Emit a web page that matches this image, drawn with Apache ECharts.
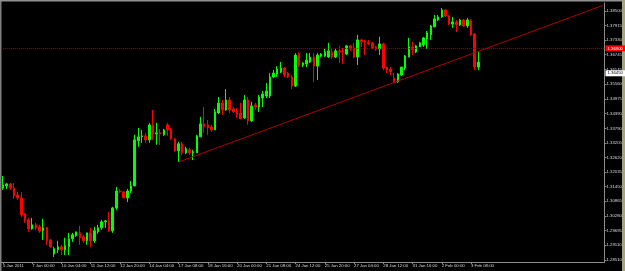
<!DOCTYPE html>
<html><head><meta charset="utf-8">
<script src="https://cdn.jsdelivr.net/npm/echarts@6/dist/echarts.min.js"></script>
<style>html,body{margin:0;padding:0;background:#000;}#c{width:625px;height:271px;}</style>
</head><body><div id="c"></div>
<script>
// EURUSD H4 candles
const openP = [
1.3140,1.3148,1.3156,1.3140,1.3112,1.3100,1.3036,1.3012,1.2976,1.2992,
1.2984,1.2968,1.2980,1.2932,1.2875,1.2892,1.2904,1.2892,1.2904,1.2936,
1.2948,1.2960,1.2944,1.2928,1.2960,1.2928,1.2964,1.2980,1.3004,1.3004,
1.2968,1.3060,1.3128,1.3124,1.3100,1.3128,1.3148,1.3329,1.3345,1.3349,
1.3333,1.3393,1.3357,1.3361,1.3353,1.3393,1.3377,1.3337,1.3289,1.3317,
1.3281,1.3293,1.3281,1.3281,1.3345,1.3397,1.3393,1.3385,1.3373,1.3441,
1.3481,1.3453,1.3493,1.3457,1.3449,1.3441,1.3421,1.3493,1.3409,1.3473,
1.3465,1.3501,1.3509,1.3509,1.3585,1.3597,1.3605,1.3621,1.3601,1.3585,
1.3549,1.3677,1.3633,1.3637,1.3645,1.3665,1.3629,1.3669,1.3669,1.3665,
1.3685,1.3665,1.3690,1.3690,1.3677,1.3710,1.3702,1.3665,1.3734,1.3730,
1.3726,1.3722,1.3706,1.3698,1.3718,1.3625,1.3617,1.3581,1.3565,1.3593,
1.3621,1.3665,1.3706,1.3685,1.3706,1.3714,1.3738,1.3754,1.3786,1.3814,
1.3826,1.3854,1.3830,1.3798,1.3806,1.3794,1.3814,1.3790,1.3810,1.3758,
1.3625];
const highP = [
1.3188,1.3160,1.3160,1.3160,1.3124,1.3124,1.3040,1.3020,1.3020,1.3000,
1.2992,1.3016,1.2984,1.2932,1.2904,1.2928,1.2912,1.2940,1.2960,1.2960,
1.2964,1.2988,1.2952,1.2960,1.2980,1.2984,1.2992,1.3012,1.3012,1.3044,
1.3064,1.3144,1.3136,1.3128,1.3136,1.3168,1.3353,1.3381,1.3373,1.3361,
1.3401,1.3453,1.3401,1.3377,1.3377,1.3401,1.3381,1.3341,1.3325,1.3325,
1.3305,1.3301,1.3293,1.3353,1.3425,1.3465,1.3413,1.3393,1.3457,1.3505,
1.3493,1.3537,1.3505,1.3465,1.3461,1.3481,1.3513,1.3505,1.3485,1.3481,
1.3513,1.3529,1.3561,1.3601,1.3613,1.3629,1.3645,1.3625,1.3605,1.3593,
1.3681,1.3685,1.3645,1.3681,1.3681,1.3681,1.3681,1.3681,1.3698,1.3722,
1.3698,1.3698,1.3710,1.3702,1.3714,1.3714,1.3722,1.3754,1.3738,1.3734,
1.3734,1.3726,1.3710,1.3746,1.3722,1.3625,1.3625,1.3601,1.3601,1.3625,
1.3673,1.3742,1.3726,1.3714,1.3726,1.3746,1.3770,1.3794,1.3834,1.3834,
1.3862,1.3858,1.3834,1.3826,1.3814,1.3818,1.3818,1.3822,1.3818,1.3762,
1.3685];
const lowP = [
1.3132,1.3136,1.3132,1.3096,1.3092,1.3024,1.3000,1.2964,1.2972,1.2972,
1.2960,1.2932,1.2912,1.2900,1.2863,1.2879,1.2871,1.2871,1.2871,1.2924,
1.2944,1.2912,1.2920,1.2912,1.2904,1.2920,1.2956,1.2972,1.2980,1.2964,
1.2960,1.3052,1.3120,1.3100,1.3084,1.3120,1.3148,1.3305,1.3321,1.3321,
1.3321,1.3333,1.3313,1.3313,1.3349,1.3349,1.3333,1.3285,1.3244,1.3272,
1.3276,1.3272,1.3252,1.3281,1.3345,1.3361,1.3353,1.3365,1.3373,1.3437,
1.3433,1.3449,1.3441,1.3441,1.3421,1.3417,1.3417,1.3393,1.3405,1.3453,
1.3445,1.3465,1.3501,1.3501,1.3581,1.3585,1.3601,1.3585,1.3581,1.3537,
1.3545,1.3625,1.3625,1.3625,1.3641,1.3565,1.3573,1.3665,1.3665,1.3661,
1.3657,1.3661,1.3641,1.3637,1.3673,1.3690,1.3661,1.3633,1.3706,1.3673,
1.3714,1.3698,1.3690,1.3673,1.3613,1.3601,1.3593,1.3561,1.3561,1.3589,
1.3613,1.3665,1.3673,1.3681,1.3706,1.3706,1.3698,1.3734,1.3786,1.3810,
1.3822,1.3826,1.3794,1.3782,1.3766,1.3790,1.3786,1.3782,1.3750,1.3613,
1.3613];
const closeP = [
1.3152,1.3156,1.3140,1.3108,1.3100,1.3032,1.3012,1.2976,1.2992,1.2980,
1.2968,1.2980,1.2928,1.2904,1.2896,1.2904,1.2892,1.2908,1.2936,1.2952,
1.2964,1.2940,1.2928,1.2960,1.2928,1.2968,1.2980,1.3004,1.3008,1.2968,
1.3060,1.3128,1.3124,1.3100,1.3128,1.3148,1.3333,1.3345,1.3349,1.3333,
1.3393,1.3357,1.3361,1.3357,1.3373,1.3373,1.3337,1.3289,1.3317,1.3281,
1.3297,1.3281,1.3285,1.3349,1.3397,1.3385,1.3381,1.3373,1.3445,1.3481,
1.3453,1.3493,1.3453,1.3445,1.3433,1.3417,1.3493,1.3409,1.3469,1.3465,
1.3505,1.3517,1.3529,1.3585,1.3601,1.3617,1.3621,1.3593,1.3585,1.3549,
1.3673,1.3633,1.3641,1.3653,1.3665,1.3629,1.3673,1.3677,1.3685,1.3690,
1.3665,1.3690,1.3685,1.3685,1.3710,1.3698,1.3665,1.3734,1.3726,1.3726,
1.3718,1.3702,1.3698,1.3718,1.3621,1.3613,1.3605,1.3565,1.3597,1.3625,
1.3669,1.3706,1.3694,1.3710,1.3722,1.3742,1.3762,1.3790,1.3818,1.3826,
1.3854,1.3830,1.3798,1.3806,1.3794,1.3814,1.3790,1.3814,1.3754,1.3625,
1.3645];

// time-axis tick labels (every 8th H4 bar)
const xTickLabels = ["5 Jan 2011","7 Jan 00:00","10 Jan 04:00","11 Jan 12:00","12 Jan 20:00",
  "14 Jan 04:00","17 Jan 08:00","18 Jan 16:00","20 Jan 00:00","21 Jan 08:00","24 Jan 12:00",
  "25 Jan 20:00","27 Jan 04:00","28 Jan 12:00","31 Jan 16:00","2 Feb 00:00","3 Feb 08:00"];
const yTickValues = [1.28510,1.29110,1.29695,1.30280,1.30865,1.31450,1.32035,1.32620,1.33205,
  1.33790,1.34390,1.34975,1.35560,1.36145,1.36745,1.37330,1.37915,1.38500];
const yMin = 1.2843, yMax = 1.3882;
const hLineLevel = 1.36900;
const bidLevel = 1.36450;
const trendStart = [48, 1.3244];
const trendEnd = [164, 1.3872];
const totalSlots = 165;
const firstBarUTC = Date.UTC(2011, 0, 5, 16);

// categories: H4 bar times, weekends skipped (chart shift area continues into the future)
const months = ['Jan','Feb','Mar'];
const cats = [];
let t = firstBarUTC;
while (cats.length < totalSlots) {
  const d = new Date(t);
  const wd = d.getUTCDay();
  if (wd !== 0 && wd !== 6) {
    cats.push(d.getUTCDate() + ' ' + months[d.getUTCMonth()] + ' ' +
      String(d.getUTCHours()).padStart(2,'0') + ':00');
  }
  t += 4 * 3600 * 1000;
}
const candles = openP.map((o, i) => [o, closeP[i], lowP[i], highP[i]]);
const showTick = (i) => i % 8 === 0 && i / 8 < xTickLabels.length;

const chart = echarts.init(document.getElementById('c'), null, {renderer: 'canvas'});
const FONT = 'Liberation Sans';
const FS = 4.3;
chart.setOption({
  animation: false,
  backgroundColor: '#000000',
  grid: {left: 0.5, right: 20, top: 3, bottom: 9, containLabel: false},
  xAxis: {
    type: 'category', data: cats, boundaryGap: true,
    axisLine: {show: true, lineStyle: {color: '#8c8c8c', width: 1}},
    axisTick: {show: true, interval: showTick, alignWithLabel: true, length: 2, lineStyle: {color: '#8c8c8c'}},
    axisLabel: {interval: showTick, formatter: (v, i) => xTickLabels[i / 8] || '',
      align: 'left', color: '#d8d8d8', fontSize: FS, fontFamily: FONT, margin: 1.5},
    splitLine: {show: false}
  },
  yAxis: {
    type: 'value', position: 'right', min: yMin, max: yMax, scale: true,
    axisLine: {show: true, lineStyle: {color: '#8c8c8c', width: 1}},
    axisTick: {show: true, customValues: yTickValues, length: 2, lineStyle: {color: '#8c8c8c'}},
    axisLabel: {customValues: yTickValues, formatter: v => v.toFixed(5),
      color: '#d8d8d8', fontSize: FS, fontFamily: FONT, margin: 2},
    splitLine: {show: false}
  },
  series: [{
    type: 'candlestick',
    data: candles,
    barWidth: 2,
    silent: true,
    itemStyle: {color: '#00ff00', color0: '#ff0000', borderColor: '#00ff00', borderColor0: '#ff0000',
      borderColorDoji: '#00ff00', borderWidth: 1},
    markLine: {
      silent: true, symbol: ['none', 'none'], animation: false,
      data: [
        {yAxis: hLineLevel,
         lineStyle: {color: '#a00000', type: [1, 1], width: 1},
         label: {show: true, position: 'end', distance: 1, formatter: hLineLevel.toFixed(5), opacity: 1,
           color: '#ffffff', backgroundColor: '#ff0000', fontSize: FS, fontFamily: FONT, padding: [1.5, 3, 0.5, 2]}},
        {yAxis: bidLevel,
         lineStyle: {color: 'rgba(0,0,0,0)', width: 1},
         label: {show: true, position: 'end', distance: 1, formatter: bidLevel.toFixed(5), opacity: 1,
           color: '#000000', backgroundColor: '#ffffff', fontSize: FS, fontFamily: FONT, padding: [1.5, 3, 0.5, 2]}},
        [{coord: trendStart, lineStyle: {color: '#b00000', type: 'solid', width: 1}, label: {show: false}},
         {coord: trendEnd}]
      ]
    }
  }],
  graphic: [
    {type: 'rect', shape: {x: 0, y: 0, width: 1.5, height: 271}, style: {fill: '#808080'}, silent: true},
    {type: 'rect', shape: {x: 0, y: 0, width: 625, height: 1.5}, style: {fill: '#909090'}, silent: true},
    {type: 'rect', shape: {x: 622, y: 0, width: 3, height: 271}, style: {fill: '#a4a47c'}, silent: true}
  ]
});
</script></body></html>
